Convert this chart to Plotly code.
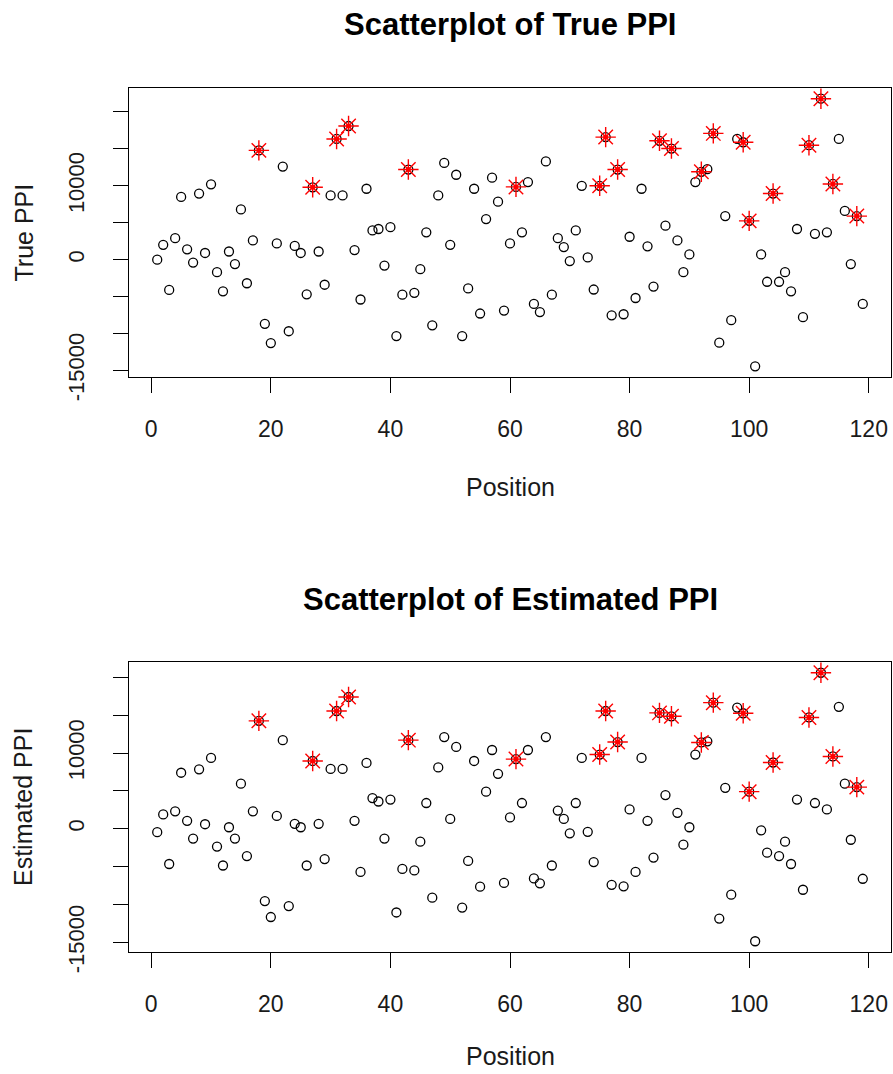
import plotly.graph_objects as go

positions = list(range(1, 120))

true_ppi = [
    0, 2000, -4100, 2900, 8500, 1400, -400, 8950, 900, 10200,
    -1700, -4300, 1100, -600, 6800, -3200, 2600, 14800, -8700, -11300,
    2200, 12600, -9700, 1850, 900, -4700, 9800, 1100, -3400, 8700,
    16350, 8700, 18100, 1300, -5400, 9600, 3950, 4150, -800, 4400,
    -10350, -4750, 12200, -4500, -1300, 3700, -8900, 8700, 13100, 2000,
    11500, -10350, -3900, 9600, -7300, 5500, 11100, 7850, -6900, 2200,
    9850, 3700, 10500, -6000, -7100, 13300, -4750, 2900, 1700, -200,
    3950, 10000, 300, -4050, 10000, 16600, -7550, 12200, -7400, 3100,
    -5200, 9600, 1800, -3650, 16100, 4600, 15050, 2600, -1700, 700,
    10500, 11900, 12250, 17100, -11250, 5900, -8200, 16350, 15900, 5250,
    -14450, 700, -3000, 8950, -3000, -1700, -4300, 4150, -7800, 15500,
    3500, 21800, 3700, 10250, 16350, 6600, -600, 5900, -6000,
]

est_ppi = [
    -450, 1900, -4650, 2300, 7400, 1050, -1300, 7850, 600, 9350,
    -2350, -4850, 200, -1300, 5950, -3600, 2300, 14250, -9550, -11650,
    1700, 11700, -10200, 650, 200, -4850, 8950, 650, -4000, 7900,
    15550, 7900, 17400, 1050, -5700, 8700, 4050, 3600, -1300, 3850,
    -11050, -5300, 11700, -5500, -1700, 3400, -9100, 8100, 12100, 1300,
    10800, -10400, -4250, 8950, -7650, 4900, 10400, 7250, -7150, 1500,
    9200, 3400, 10400, -6550, -7200, 12100, -4850, 2400, 1300, -600,
    3400, 9350, -400, -4400, 9800, 15550, -7400, 11450, -7600, 2550,
    -5700, 9350, 1050, -3800, 15300, 4450, 14850, 2100, -2100, 200,
    9800, 11400, 11550, 16650, -11850, 5400, -8700, 16000, 15250, 4900,
    -14850, -200, -3150, 8750, -3600, -1700, -4650, 3850, -8050, 14700,
    3400, 20600, 2550, 9550, 16100, 5950, -1450, 5500, -6600,
]

highlight = [18, 27, 31, 33, 43, 61, 75, 76, 78, 85, 87, 92, 94, 99,
             100, 104, 110, 112, 114, 118]

titles = ["Scatterplot of True PPI", "Scatterplot of Estimated PPI"]
ylabels = ["True PPI", "Estimated PPI"]
xlabel = "Position"
x_ticks = [0, 20, 40, 60, 80, 100, 120]
y_tick_marks = [-15000, -10000, -5000, 0, 5000, 10000, 15000, 20000]
y_tick_labels = {-15000: "-15000", 0: "0", 10000: "10000"}

W, H = 893, 1074
FONT = "Liberation Sans, Arial, sans-serif"
TXT = "#1a1a1a"

# plot boxes in pixels: (top, bottom)
boxes = [(88, 377), (662, 952)]
xlabel_px = [487, 1056]
left_px, right_px = 129, 891

fig = go.Figure()


def rng(vals):
    lo, hi = min(vals), max(vals)
    r = hi - lo
    return [lo - 0.04 * r, hi + 0.04 * r]


xr = rng(positions)
annotations = []
for i, (vals, (top, bot)) in enumerate(zip([true_ppi, est_ppi], boxes)):
    xa = "x" if i == 0 else "x2"
    ya = "y" if i == 0 else "y2"
    fig.add_trace(go.Scatter(
        x=positions, y=vals, mode="markers", xaxis=xa, yaxis=ya,
        marker=dict(symbol="circle-open", size=9, color="black",
                    line=dict(width=1.3, color="black")),
        showlegend=False, hoverinfo="x+y"))
    hx = [p for p in positions if p in highlight]
    hy = [vals[p - 1] for p in hx]
    fig.add_trace(go.Scatter(
        x=hx, y=hy, mode="markers", xaxis=xa, yaxis=ya,
        marker=dict(symbol="asterisk-open", size=17, color="red",
                    line=dict(width=1.4, color="red")),
        showlegend=False, hoverinfo="skip"))
    fig.add_trace(go.Scatter(
        x=hx, y=hy, mode="markers", xaxis=xa, yaxis=ya,
        marker=dict(symbol="circle", size=5, color="red"),
        showlegend=False, hoverinfo="skip"))

    dom_y = [1 - bot / H, 1 - top / H]
    axis_common = dict(showgrid=False, zeroline=False, showline=True,
                       linecolor="black", linewidth=1, mirror=True,
                       ticks="outside", ticklen=15, tickwidth=1,
                       tickcolor="black", automargin=False)
    xname = "xaxis" if i == 0 else "xaxis2"
    yname = "yaxis" if i == 0 else "yaxis2"
    fig.update_layout(**{
        xname: dict(domain=[left_px / W, right_px / W], range=xr,
                    anchor=ya, tickvals=x_ticks,
                    ticktext=[str(t) for t in x_ticks],
                    tickfont=dict(family=FONT, size=23, color=TXT),
                    ticklabelstandoff=16, **axis_common),
        yname: dict(domain=dom_y, range=rng(vals), anchor=xa,
                    tickvals=y_tick_marks,
                    ticktext=[y_tick_labels.get(t, "") for t in y_tick_marks],
                    tickfont=dict(family=FONT, size=22, color=TXT),
                    tickangle=-90, ticklabelstandoff=20, **axis_common),
    })
    # main title
    annotations.append(dict(text="<b>%s</b>" % titles[i], x=510 / W,
                            y=1 - (top - 63) / H, xref="paper",
                            yref="paper", showarrow=False,
                            xanchor="center", yanchor="middle",
                            font=dict(family=FONT, size=31, color="black")))
    # x label
    annotations.append(dict(text=xlabel, x=510 / W,
                            y=1 - xlabel_px[i] / H,
                            xref="paper", yref="paper", showarrow=False,
                            xanchor="center", yanchor="middle",
                            font=dict(family=FONT, size=25, color=TXT)))
    # y label
    annotations.append(dict(text=ylabels[i], x=23 / W,
                            y=1 - ((top + bot) / 2) / H, xref="paper",
                            yref="paper", showarrow=False, textangle=-90,
                            xanchor="center", yanchor="middle",
                            font=dict(family=FONT, size=25, color=TXT)))

fig.update_layout(width=W, height=H, margin=dict(l=0, r=0, t=0, b=0),
                  paper_bgcolor="white", plot_bgcolor="white",
                  annotations=annotations)

fig.write_html(
    "out.html",
    config={"displayModeBar": False},
    post_script="document.body.style.margin='0';"
                "document.body.style.overflow='hidden';")
